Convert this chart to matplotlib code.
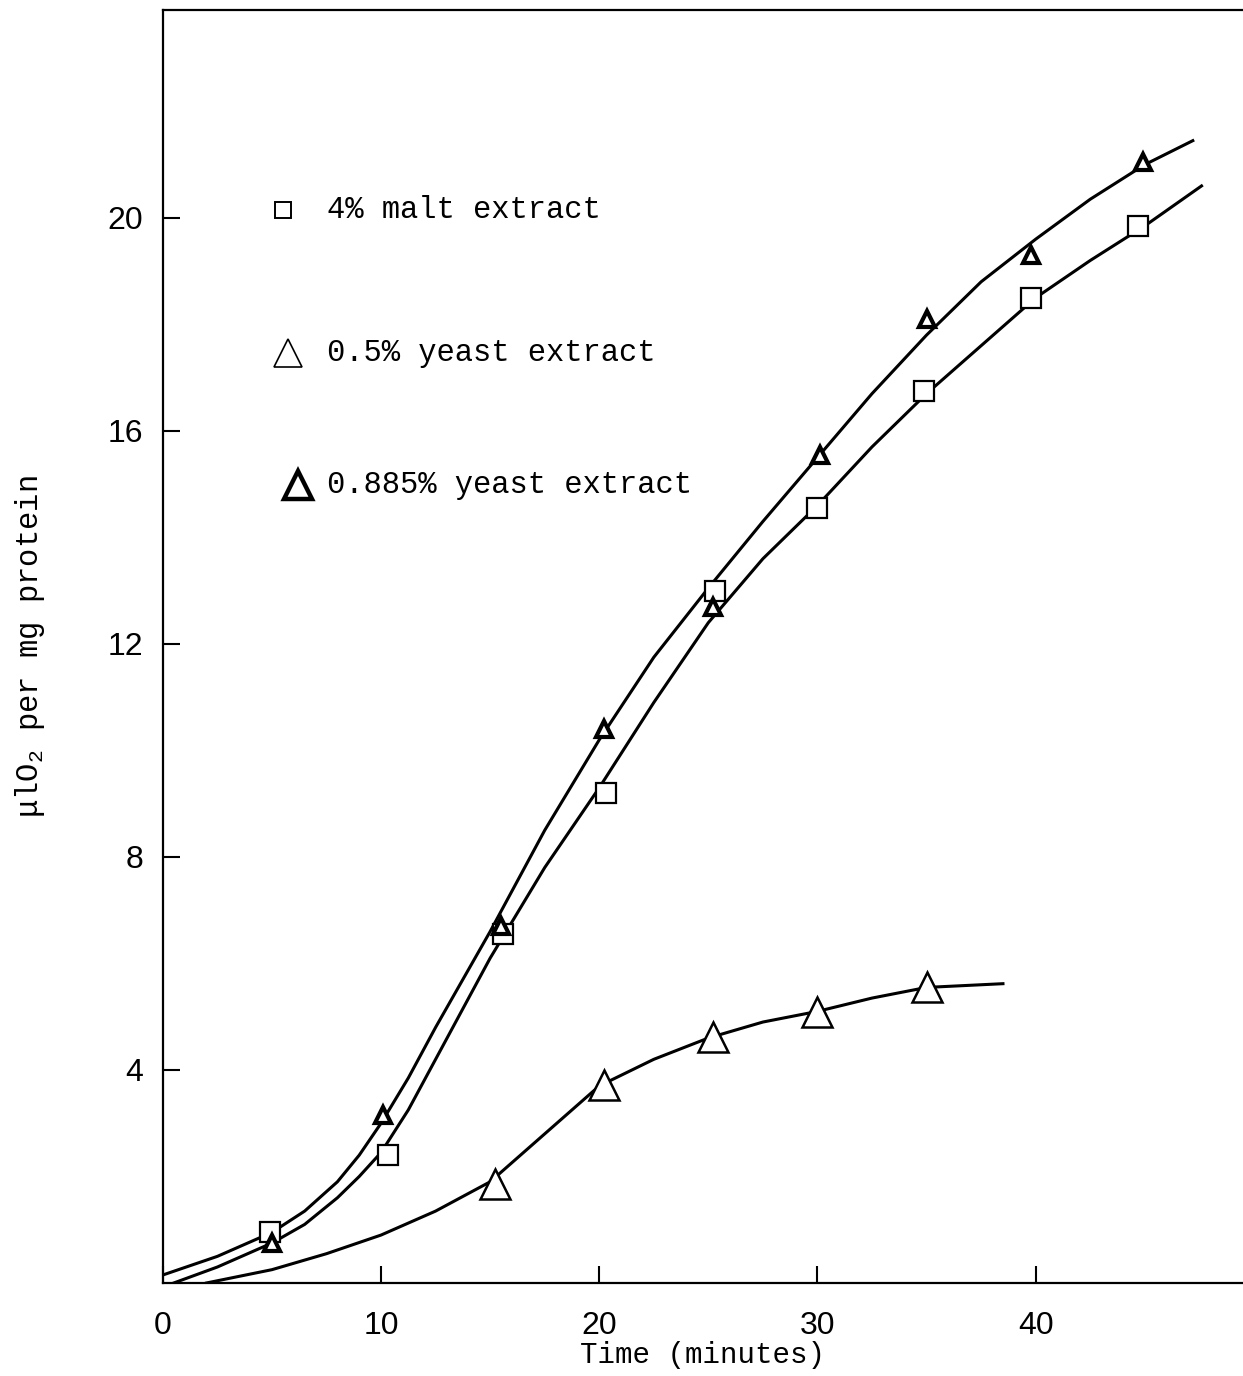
"""
Oxygen uptake vs time for three growth media (scanned figure re-drawn).
"""

import matplotlib
matplotlib.use('Agg')
import matplotlib.pyplot as plt

# --- data ---------------------------------------------------------------

# 4% malt extract (open squares)
malt_t = [4.9, 10.3, 15.6, 20.3, 25.3, 30.0, 34.9, 39.8, 44.7]
malt_o2 = [0.95, 2.4, 6.55, 9.2, 13.0, 14.55, 16.75, 18.5, 19.85]

# 0.885% yeast extract (small bold triangles)
y885_t = [5.0, 10.1, 15.5, 20.2, 25.2, 30.1, 35.0, 39.8, 44.9]
y885_o2 = [0.75, 3.15, 6.7, 10.4, 12.7, 15.55, 18.1, 19.3, 21.05]

# 0.5% yeast extract (large open triangles)
y05_t = [15.2, 20.2, 25.2, 30.0, 35.0]
y05_o2 = [1.85, 3.72, 4.62, 5.08, 5.55]

# hand-drawn smooth curves at small time steps
upper_curve_t = [0, 2.5, 5, 6.5, 8, 9, 10, 11.25, 12.5, 15, 17.5, 20, 22.5,
                 25, 27.5, 30, 32.5, 35, 37.5, 40, 42.5, 45, 47.2]
upper_curve_o2 = [0.15, 0.5, 0.95, 1.35, 1.9, 2.4, 3.0, 3.85, 4.8, 6.6,
                  8.5, 10.2, 11.75, 13.05, 14.3, 15.5, 16.7, 17.8, 18.8,
                  19.6, 20.35, 21.0, 21.45]

lower_curve_t = [0.5, 2.5, 5, 6.5, 8, 9, 10, 11.25, 12.5, 15, 17.5, 20,
                 22.5, 25, 27.5, 30, 32.5, 35, 37.5, 40, 42.5, 45, 47.6]
lower_curve_o2 = [0.0, 0.3, 0.75, 1.1, 1.6, 2.0, 2.45, 3.25, 4.2, 6.1,
                  7.8, 9.3, 10.9, 12.4, 13.6, 14.6, 15.7, 16.7, 17.6, 18.5,
                  19.2, 19.85, 20.6]

y05_curve_t = [2, 5, 7.5, 10, 12.5, 15, 17.5, 20, 22.5, 25, 27.5, 30,
               32.5, 35, 38.5]
y05_curve_o2 = [0.0, 0.25, 0.55, 0.9, 1.35, 1.9, 2.8, 3.7, 4.2, 4.6, 4.9,
                5.1, 5.35, 5.55, 5.62]

x_ticks = [0, 10, 20, 30, 40]
y_ticks = [4, 8, 12, 16, 20]

legend_labels = ['4% malt extract', '0.5% yeast extract',
                 '0.885% yeast extract']

# --- figure ---------------------------------------------------------------

MONO = ['Liberation Mono', 'DejaVu Sans Mono']
SANS = ['Liberation Sans', 'DejaVu Sans']
plt.rcParams['mathtext.fontset'] = 'custom'
plt.rcParams['mathtext.rm'] = 'Liberation Mono'
plt.rcParams['mathtext.it'] = 'Liberation Mono'

fig = plt.figure(figsize=(12.43, 13.76), dpi=100)
ax = fig.add_axes([0.131, 0.0676, 0.869, 0.925])

ax.set_xlim(0, 49.5)
ax.set_ylim(0, 23.9)

lw = 2.2
ax.plot(upper_curve_t, upper_curve_o2, color='black', lw=lw)
ax.plot(lower_curve_t, lower_curve_o2, color='black', lw=lw)
ax.plot(y05_curve_t, y05_curve_o2, color='black', lw=lw)

ax.plot(malt_t, malt_o2, ls='none', marker='s', ms=14, mfc='white',
        mec='black', mew=1.6, zorder=3)
ax.plot(y885_t, y885_o2, ls='none', marker='^', ms=12, mfc='white',
        mec='black', mew=3.0, zorder=3)
ax.plot(y05_t, y05_o2, ls='none', marker='^', ms=21, mfc='white',
        mec='black', mew=1.8, zorder=3)

# legend drawn by hand, like the original typed key
key_rows = [0.843, 0.731, 0.627]
key_marker_x = [0.111, 0.116, 0.125]
key_styles = [dict(marker='s', ms=12, mew=1.4),
              dict(marker='^', ms=20, mew=1.2),
              dict(marker='^', ms=20, mew=3.2)]
for label, ky, kx, st in zip(legend_labels, key_rows, key_marker_x, key_styles):
    ax.plot([kx], [ky], transform=ax.transAxes, ls='none', mfc='white',
            mec='black', clip_on=False, **st)
    ax.text(0.152, ky, label, transform=ax.transAxes, va='center',
            ha='left', fontsize=22, family=MONO)

# axes styling
for side in ['left', 'top', 'bottom']:
    ax.spines[side].set_linewidth(1.6)
ax.spines['right'].set_visible(False)

ax.set_xticks(x_ticks)
ax.set_yticks(y_ticks)
ax.tick_params(direction='in', length=12, width=1.5, labelsize=23,
               top=False, right=False)
ax.tick_params(axis='x', pad=20)
ax.tick_params(axis='y', pad=14)
for lab in ax.get_xticklabels() + ax.get_yticklabels():
    lab.set_family(SANS)

ax.set_xlabel('Time (minutes)', fontsize=21, family=MONO, labelpad=0)
ax.set_ylabel('\u03bclO$_2$ per mg protein', fontsize=22, family=MONO,
              labelpad=44)

plt.savefig('out.png', dpi=100)
plt.close(fig)
